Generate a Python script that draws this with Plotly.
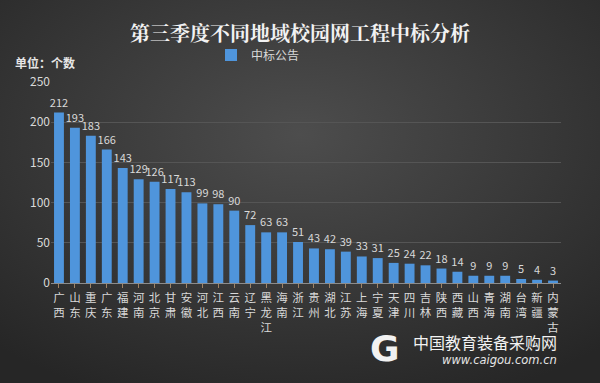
import plotly.graph_objects as go
import base64

regions = ["广西", "山东", "重庆", "广东", "福建", "河南", "北京", "甘肃", "安徽", "河北",
           "江西", "云南", "辽宁", "黑龙江", "海南", "浙江", "贵州", "湖北", "江苏", "上海",
           "宁夏", "天津", "四川", "吉林", "陕西", "西藏", "山西", "青海", "湖南", "台湾",
           "新疆", "内蒙古"]
counts = [212, 193, 183, 166, 143, 129, 126, 117, 113, 99, 98, 90, 72, 63, 63, 51, 43, 42,
          39, 33, 31, 25, 24, 22, 18, 14, 9, 9, 9, 5, 4, 3]
series_name = "中标公告"
y_ticks = [0, 50, 100, 150, 200, 250]

tick_text = ["<br>".join(list(r)) for r in regions]

svg = """<svg xmlns='http://www.w3.org/2000/svg' width='600' height='383'>
<defs><radialGradient id='g' cx='50%' cy='35%' r='75%'>
<stop offset='0%' stop-color='#4d4d4d'/><stop offset='100%' stop-color='#262626'/>
</radialGradient></defs><rect width='600' height='383' fill='url(#g)'/></svg>"""
bg = "data:image/svg+xml;base64," + base64.b64encode(svg.encode()).decode()

font = "Noto Sans CJK SC"
L, R, T, B = 51, 39, 82, 100
PW, PH = 600 - L - R, 383 - T - B

fig = go.Figure()
fig.add_trace(go.Bar(
    x=regions, y=counts, name=series_name,
    marker=dict(color="#4f95dc", line=dict(width=0)),
    text=counts, textposition="outside", cliponaxis=False, constraintext="none",
    textfont=dict(color="#d9d9d9", size=11, family=font),
    width=0.62,
))

fig.update_layout(
    width=600, height=383,
    paper_bgcolor="#363636", plot_bgcolor="rgba(0,0,0,0)",
    margin=dict(l=L, r=R, t=T, b=B),
    font=dict(family=font, color="#d9d9d9"),
    title=dict(text="<b>第三季度不同地域校园网工程中标分析</b>", x=0.5, xanchor="center",
               yref="container", y=1 - 34 / 383, yanchor="middle",
               font=dict(size=20, color="#f2f2f2", family="Noto Serif CJK SC, " + font)),
    showlegend=True,
    legend=dict(orientation="h", x=(258 - L) / PW, xanchor="center", y=1 + (T - 55) / PH,
                yanchor="middle",
                font=dict(size=12, color="#d9d9d9"), bgcolor="rgba(0,0,0,0)"),
    images=[dict(source=bg, xref="paper", yref="paper", x=-L / PW, y=1 + T / PH,
                 sizex=600 / PW, sizey=383 / PH,
                 xanchor="left", yanchor="top", layer="below", sizing="stretch")],
)
fig.update_xaxes(
    tickmode="array", tickvals=regions, ticktext=tick_text,
    tickfont=dict(size=11.5, color="#d9d9d9"),
    showline=True, linecolor="#8c8c8c", linewidth=1,
    ticks="outside", ticklen=4, tickcolor="#a08466",
    showgrid=False, tickangle=0,
)
fig.update_yaxes(
    range=[0, 250], tickvals=y_ticks,
    tickfont=dict(size=12, color="#d9d9d9"),
    showgrid=True, gridcolor="#555555", gridwidth=1,
    zeroline=False, showline=False, ticks="",
)

fig.add_annotation(text="<b>单位：个数</b>", xref="paper", yref="paper", x=(13 - L) / PW,
                   y=1 + (T - 62) / PH,
                   xanchor="left", yanchor="middle", showarrow=False,
                   font=dict(size=12, color="#e6e6e6"))
fig.add_annotation(text="中国教育装备采购网", xref="paper", yref="paper", x=(559 - L) / PW,
                   y=-(342 - 283) / PH,
                   xanchor="right", yanchor="middle", showarrow=False,
                   font=dict(size=16, color="#f2f2f2"))
fig.add_annotation(text="<i>www.caigou.com.cn</i>", xref="paper", yref="paper",
                   x=(559 - L) / PW, y=-(360 - 283) / PH,
                   xanchor="right", yanchor="middle", showarrow=False,
                   font=dict(size=11.5, color="#e6e6e6", family="DejaVu Sans"))
fig.add_annotation(text="<b>G</b>", xref="paper", yref="paper", x=(385 - L) / PW,
                   y=-(348 - 283) / PH,
                   xanchor="center", yanchor="middle", showarrow=False,
                   font=dict(size=36, color="#f2f2f2", family="DejaVu Sans"))

fig.write_html("out.html", config={"displayModeBar": False},
               post_script="document.body.style.margin='0';")
